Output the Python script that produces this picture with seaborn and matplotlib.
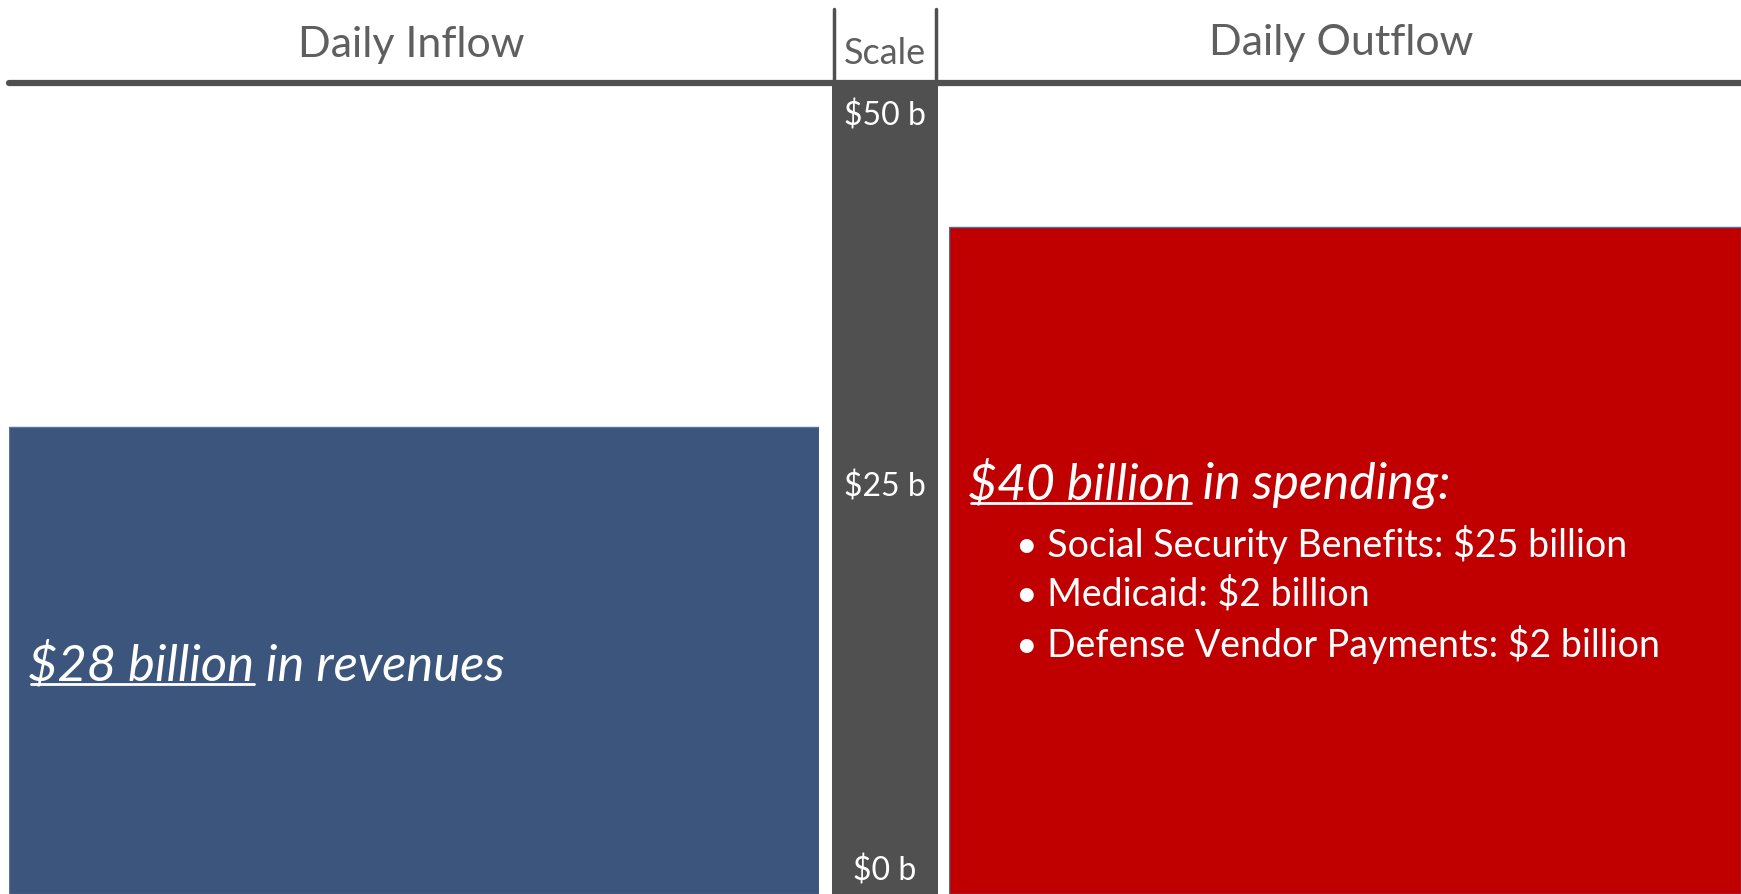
import matplotlib
matplotlib.use("Agg")
import matplotlib.pyplot as plt
import seaborn as sns
from matplotlib.lines import Line2D

# data
columns = ["Daily Inflow", "Scale", "Daily Outflow"]
inflow = 28
outflow = 40
scale_max = 50
scale_ticks = [50, 25, 0]
scale_labels = ["$50 b", "$25 b", "$0 b"]
inflow_head, inflow_tail = "$28 billion", " in revenues"
outflow_head, outflow_tail = "$40 billion", " in spending:"
outflow_items = ["Social Security Benefits: $25 billion",
                 "Medicaid: $2 billion",
                 "Defense Vendor Payments: $2 billion"]

BLUE = "#3B557C"
RED = "#C00000"
DARK = "#505050"
HEAD = "#5F5F5F"

sns.set_theme(style="white")
plt.rcParams["font.family"] = ["Lato", "DejaVu Sans"]

W, H = 1741, 894
fig = plt.figure(figsize=(W / 100, H / 100), dpi=100)
ymax = 48.6
top = 83  # header rule, px from top


def box(x0, x1):
    return [x0 / W, 0, (x1 - x0) / W, (H - top) / H]


ax_in = fig.add_axes(box(9, 819))
ax_sc = fig.add_axes(box(832, 938))
ax_out = fig.add_axes(box(949, 1741))

for ax, name, val, col, edge in [(ax_in, columns[0], inflow, BLUE, "#5673A0"),
                                 (ax_sc, columns[1], scale_max, DARK, DARK),
                                 (ax_out, columns[2], outflow, RED, "#4F6E98")]:
    sns.barplot(x=[name], y=[val], color=col, width=1, saturation=1,
                edgecolor=edge, linewidth=1, ax=ax)
    ax.set_xlim(-0.5, 0.5)
    ax.set_ylim(0, ymax)
    ax.axis("off")

# scale labels (kept inside the visible strip)
for t, lab in zip(scale_ticks, scale_labels):
    y = min(max(t - 0.6, 1.4), 46.6)
    ax_sc.text(0, y, lab, ha="center", va="center", color="white",
               fontsize=23, parse_math=False)

# header
fig.add_artist(Line2D([9 / W, 1], [1 - top / H] * 2, color=DARK, lw=4.5))
for x in (834, 936):
    fig.add_artist(Line2D([x / W] * 2, [1 - 9 / H, 1 - top / H], color=DARK, lw=2.5))
fig.text(411 / W, 1 - 45 / H, columns[0], ha="center", va="center", color=HEAD, fontsize=31)
fig.text(885 / W, 1 - 54 / H, columns[1], ha="center", va="center", color=HEAD, fontsize=26)
fig.text(1341 / W, 1 - 43 / H, columns[2], ha="center", va="center", color=HEAD, fontsize=31)


def underlined(ax, x, y, head, tail, size):
    t1 = ax.text(x, y, head, transform=ax.transAxes, va="center", ha="left",
                 color="white", fontsize=size, style="italic", parse_math=False)
    ax.annotate(tail, xy=(1, 0), xycoords=t1, va="bottom", ha="left",
                color="white", fontsize=size, style="italic", parse_math=False)
    return t1


u1 = underlined(ax_in, 0.023, (H - 666) / (H - top), inflow_head, inflow_tail, 36.5)
u2 = underlined(ax_out, 0.024, (H - 485) / (H - top), outflow_head, outflow_tail, 36)

for i, item in enumerate(outflow_items):
    y = (H - 544 - 50 * i) / (H - top)
    ax_out.text(0.084, y, "\u2022 " + item, transform=ax_out.transAxes, va="center",
                ha="left", color="white", fontsize=27, parse_math=False)

fig.canvas.draw()
r = fig.canvas.get_renderer()
for t in (u1, u2):
    bb = t.get_window_extent(r)
    yl = (bb.y0 + 6) / H
    fig.add_artist(Line2D([bb.x0 / W + 0.002, bb.x1 / W], [yl, yl], color="white", lw=2))

fig.savefig("out.png", dpi=100)
